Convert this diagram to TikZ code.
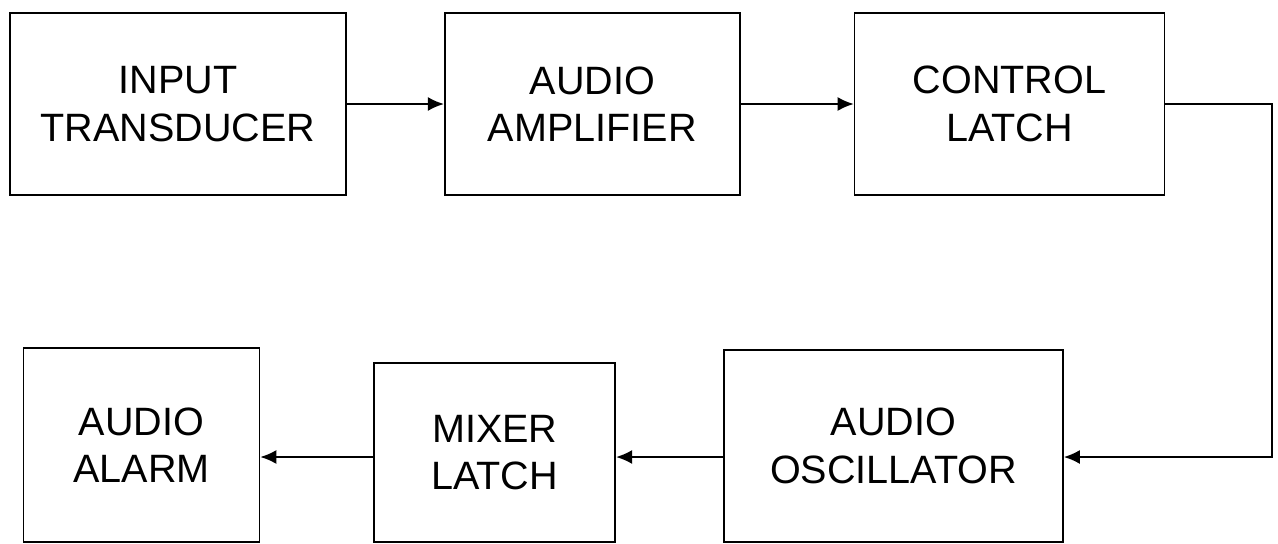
\documentclass[tikz,border=0pt]{standalone}
\usepackage{fontspec}
\setmainfont{Liberation Sans}
\usepackage{tikz}
\usetikzlibrary{arrows.meta, positioning}

\begin{document}
\begin{tikzpicture}[
  node distance = 2cm,
  box/.style = {draw, line width=1pt, inner sep=0pt, align=center, minimum height=3.64cm, font=\fontsize{22.5}{27}\selectfont},
  arrow/.style = {line width=1pt, -{Latex[length=3.2mm,width=2.8mm]}}
]
\useasboundingbox (0,0) rectangle (25.56,-10.88);
% top row
\node[box, minimum width=6.72cm] (in) at (3.56,-2.08) {INPUT\\TRANSDUCER};
\node[box, minimum width=5.9cm, right=1.94cm of in] (amp) {AUDIO\\AMPLIFIER};
\node[box, minimum width=6.2cm, right=2.26cm of amp] (ctrl) {CONTROL\\LATCH};
% bottom row
\node[box, minimum width=6.78cm, minimum height=3.84cm] (osc) at (17.87,-8.92) {AUDIO\\OSCILLATOR};
\node[box, minimum width=4.82cm, minimum height=3.58cm, left=2.14cm of osc, yshift=-0.13cm] (mix) {MIXER\\LATCH};
\node[box, minimum width=4.72cm, minimum height=3.88cm, left=2.26cm of mix, yshift=0.15cm] (alarm) {AUDIO\\ALARM};
\coordinate (bend) at (25.44,-9.14);

\draw[arrow] (in) -- (amp);
\draw[arrow] (amp) -- (ctrl);
\draw[arrow] (ctrl.east) -| (bend) -- (osc.east |- bend);
\draw[arrow] (osc.west |- bend) -- (mix.east |- bend);
\draw[arrow] (mix.west |- bend) -- (alarm.east |- bend);
\end{tikzpicture}
\end{document}
